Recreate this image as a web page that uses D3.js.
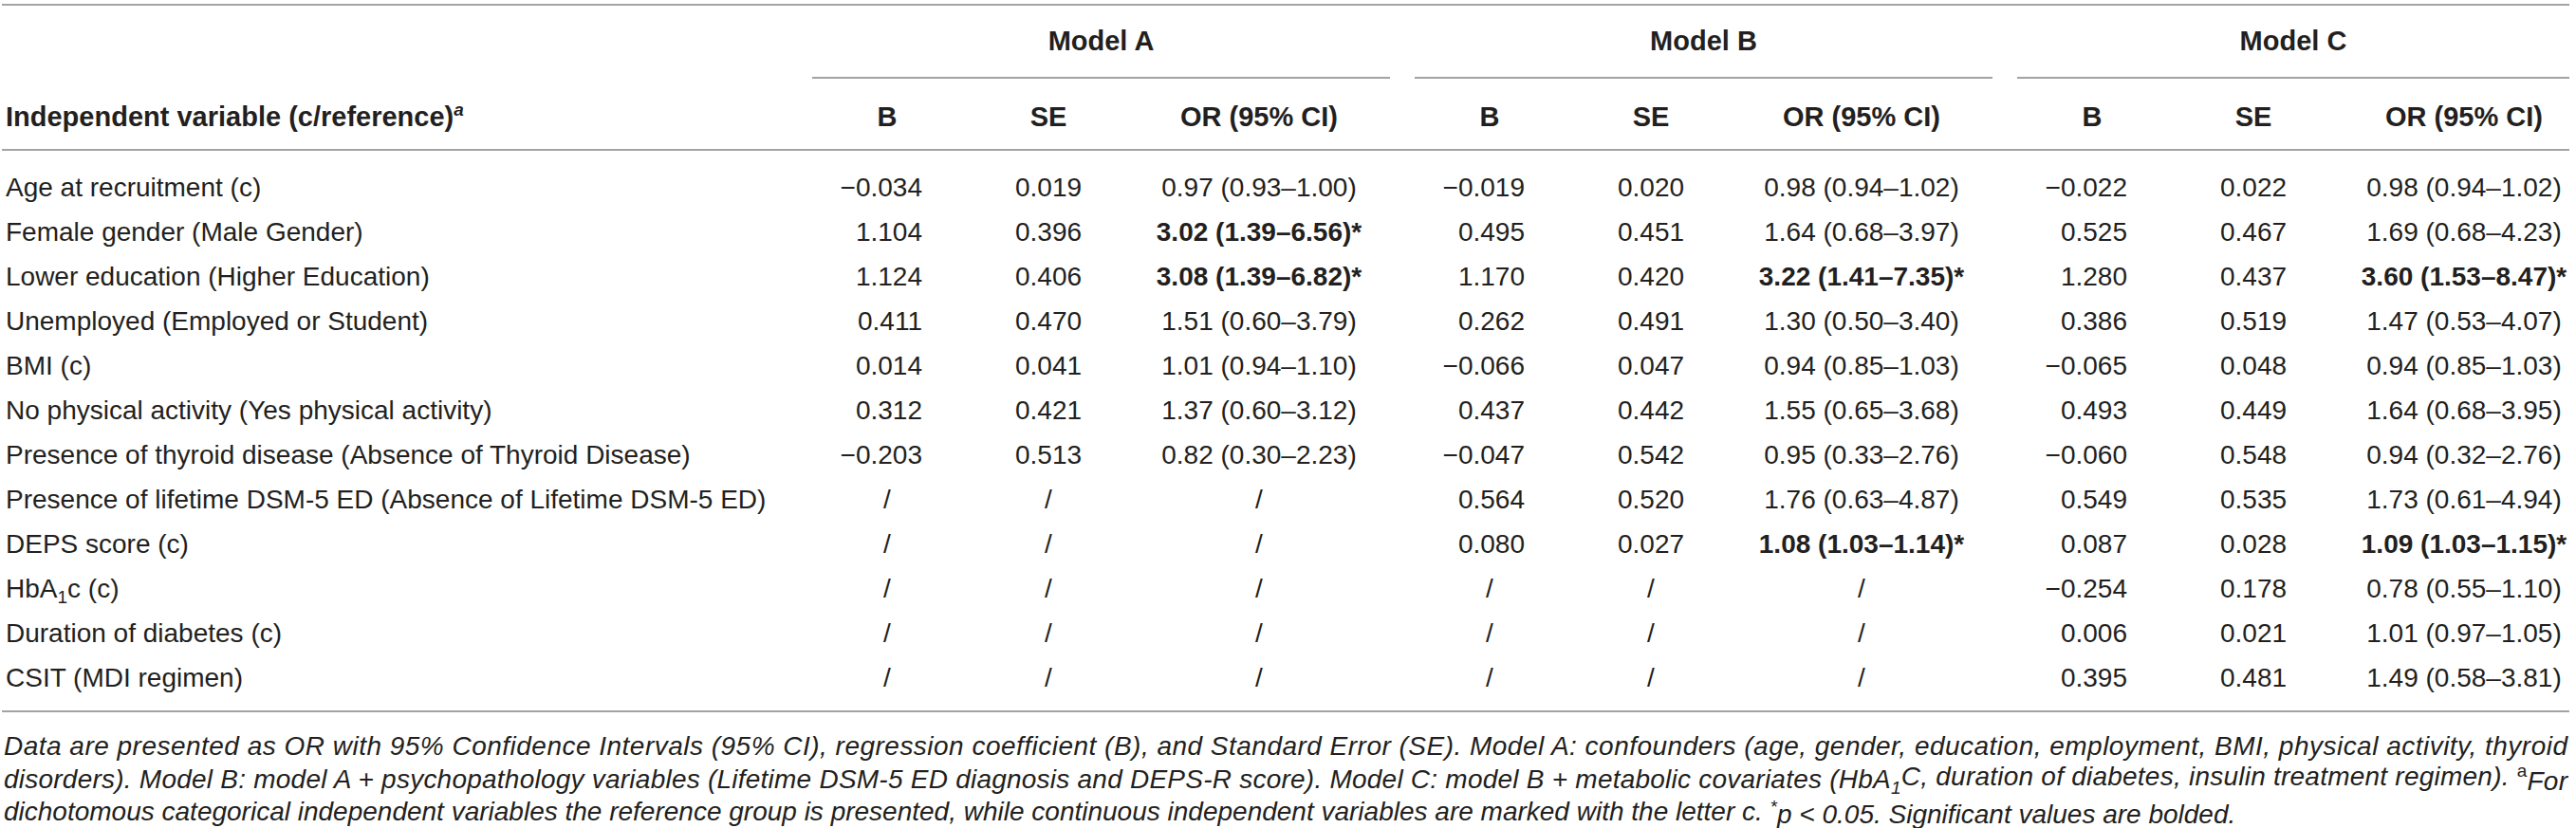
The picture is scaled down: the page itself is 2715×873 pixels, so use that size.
<!DOCTYPE html>
<html>
<head>
<meta charset="utf-8">
<script src="https://cdn.jsdelivr.net/npm/d3@7"></script>
<style>
  html, body { margin: 0; padding: 0; background: #fff; }
  svg { display: block; }
  text { font-family: "Liberation Sans", Arial, Helvetica, sans-serif; fill: #231f20; }
</style>
</head>
<body>
<svg id="chart"></svg>
<script>
// ---------------- data ----------------
const rowLabels = [
  "Age at recruitment (c)",
  "Female gender (Male Gender)",
  "Lower education (Higher Education)",
  "Unemployed (Employed or Student)",
  "BMI (c)",
  "No physical activity (Yes physical activity)",
  "Presence of thyroid disease (Absence of Thyroid Disease)",
  "Presence of lifetime DSM-5 ED (Absence of Lifetime DSM-5 ED)",
  "DEPS score (c)",
  "HbA1c (c)",
  "Duration of diabetes (c)",
  "CSIT (MDI regimen)"
];
const models = ["Model A", "Model B", "Model C"];
const columnHeads = ["B", "SE", "OR (95% CI)"];

const modelA_B  = ["\u22120.034","1.104","1.124","0.411","0.014","0.312","\u22120.203","/","/","/","/","/"];
const modelA_SE = ["0.019","0.396","0.406","0.470","0.041","0.421","0.513","/","/","/","/","/"];
const modelA_OR = ["0.97 (0.93\u20131.00)","3.02 (1.39\u20136.56)*","3.08 (1.39\u20136.82)*","1.51 (0.60\u20133.79)","1.01 (0.94\u20131.10)","1.37 (0.60\u20133.12)","0.82 (0.30\u20132.23)","/","/","/","/","/"];

const modelB_B  = ["\u22120.019","0.495","1.170","0.262","\u22120.066","0.437","\u22120.047","0.564","0.080","/","/","/"];
const modelB_SE = ["0.020","0.451","0.420","0.491","0.047","0.442","0.542","0.520","0.027","/","/","/"];
const modelB_OR = ["0.98 (0.94\u20131.02)","1.64 (0.68\u20133.97)","3.22 (1.41\u20137.35)*","1.30 (0.50\u20133.40)","0.94 (0.85\u20131.03)","1.55 (0.65\u20133.68)","0.95 (0.33\u20132.76)","1.76 (0.63\u20134.87)","1.08 (1.03\u20131.14)*","/","/","/"];

const modelC_B  = ["\u22120.022","0.525","1.280","0.386","\u22120.065","0.493","\u22120.060","0.549","0.087","\u22120.254","0.006","0.395"];
const modelC_SE = ["0.022","0.467","0.437","0.519","0.048","0.449","0.548","0.535","0.028","0.178","0.021","0.481"];
const modelC_OR = ["0.98 (0.94\u20131.02)","1.69 (0.68\u20134.23)","3.60 (1.53\u20138.47)*","1.47 (0.53\u20134.07)","0.94 (0.85\u20131.03)","1.64 (0.68\u20133.95)","0.94 (0.32\u20132.76)","1.73 (0.61\u20134.94)","1.09 (1.03\u20131.15)*","0.78 (0.55\u20131.10)","1.01 (0.97\u20131.05)","1.49 (0.58\u20133.81)"];

const headerLabel = "Independent variable (c/reference)";

// ---------------- layout ----------------
const W = 2715, H = 873;
const FONT = 28, HFONT = 29;
const LINE = "#a3a3a3";

const svg = d3.select("#chart").attr("width", W).attr("height", H);
svg.append("rect").attr("width", W).attr("height", H).attr("fill", "#fff");

const modelData = [
  {name: models[0], cols: [modelA_B, modelA_SE, modelA_OR]},
  {name: models[1], cols: [modelB_B, modelB_SE, modelB_OR]},
  {name: models[2], cols: [modelC_B, modelC_SE, modelC_OR]}
];

// model group position (B column centre)
const xModel = d3.scalePoint().domain(models).range([935, 2205]);
const colOffset = d3.scaleOrdinal().domain(columnHeads).range([0, 170, 392]);
const y = d3.scalePoint().domain(d3.range(rowLabels.length)).range([197, 714]);

const tableLeft = 2, tableRight = 2708;

// rules
const rules = [5, 158, 750];
svg.selectAll("line.rule").data(rules).join("line")
  .attr("class", "rule")
  .attr("x1", tableLeft).attr("x2", tableRight)
  .attr("y1", d => d).attr("y2", d => d)
  .attr("stroke", LINE).attr("stroke-width", 2);

// model spans
const spanStart = d => xModel(d) - 79;
const spanEnd = (d, i) => i === models.length - 1 ? tableRight : xModel(d) + 530;
svg.selectAll("line.span").data(models).join("line")
  .attr("class", "span")
  .attr("x1", d => spanStart(d))
  .attr("x2", (d, i) => spanEnd(d, i))
  .attr("y1", 82).attr("y2", 82)
  .attr("stroke", LINE).attr("stroke-width", 2);

svg.selectAll("text.model").data(models).join("text")
  .attr("class", "model")
  .attr("x", (d, i) => (spanStart(d) + spanEnd(d, i)) / 2)
  .attr("y", 43).attr("dy", "0.35em")
  .attr("text-anchor", "middle")
  .attr("font-size", HFONT).attr("font-weight", "bold")
  .text(d => d);

// column headers
models.forEach(m => {
  columnHeads.forEach(c => {
    svg.append("text")
      .attr("x", xModel(m) + colOffset(c))
      .attr("y", 123).attr("dy", "0.35em")
      .attr("text-anchor", "middle")
      .attr("font-size", HFONT).attr("font-weight", "bold")
      .text(c);
  });
});

const hl = svg.append("text").attr("x", 6).attr("y", 123).attr("dy", "0.35em")
  .attr("font-size", HFONT).attr("font-weight", "bold");
hl.append("tspan").text(headerLabel);
hl.append("tspan").attr("font-size", 19).attr("font-style", "italic").attr("dy", "-0.6em").text("a");

// row labels
svg.selectAll("text.rowlabel").data(rowLabels).join("text")
  .attr("class", "rowlabel")
  .attr("x", 6)
  .attr("y", (d, i) => y(i)).attr("dy", "0.35em")
  .attr("font-size", FONT)
  .each(function(d) {
    const t = d3.select(this);
    if (d.startsWith("HbA1c")) {
      t.append("tspan").text("HbA");
      t.append("tspan").attr("font-size", 19).attr("dy", "0.3em").text("1");
      t.append("tspan").attr("dy", "-0.2em").text("c (c)");
    } else {
      t.text(d);
    }
  });

// cells
modelData.forEach(md => {
  md.cols.forEach((vals, ci) => {
    const cx = xModel(md.name) + colOffset(columnHeads[ci]);
    svg.selectAll(null).data(vals).join("text")
      .attr("x", d => (ci === 0 && d !== "/") ? cx + 37 : cx)
      .attr("text-anchor", d => (ci === 0 && d !== "/") ? "end" : "middle")
      .attr("y", (d, i) => y(i)).attr("dy", "0.35em")
      .attr("font-size", FONT)
      .attr("font-weight", d => d.endsWith("*") ? "bold" : "normal")
      .text(d => d);
  });
});

// footnote
const FN = 28;
const fnY = [786, 821, 855];
svg.append("text").attr("x", 4).attr("y", fnY[0]).attr("dy", "0.35em")
  .attr("font-size", FN).attr("font-style", "italic")
  .attr("textLength", 2702).attr("lengthAdjust", "spacing")
  .text("Data are presented as OR with 95% Confidence Intervals (95% CI), regression coefficient (B), and Standard Error (SE). Model A: confounders (age, gender, education, employment, BMI, physical activity, thyroid");

const f2 = svg.append("text").attr("x", 4).attr("y", fnY[1]).attr("dy", "0.35em")
  .attr("font-size", FN).attr("font-style", "italic")
  .attr("textLength", 2702).attr("lengthAdjust", "spacing");
f2.append("tspan").text("disorders). Model B: model A + psychopathology variables (Lifetime DSM-5 ED diagnosis and DEPS-R score). Model C: model B + metabolic covariates (HbA");
f2.append("tspan").attr("font-size", 19).attr("dy", "0.3em").text("1");
f2.append("tspan").attr("dy", "-0.3em").text("C, duration of diabetes, insulin treatment regimen). ");
f2.append("tspan").attr("font-size", 19).attr("font-style", "normal").attr("dy", "-0.5em").text("a");
f2.append("tspan").attr("dy", "0.5em").text("For");

const f3 = svg.append("text").attr("x", 4).attr("y", fnY[2]).attr("dy", "0.35em")
  .attr("font-size", FN).attr("font-style", "italic");
f3.append("tspan").text("dichotomous categorical independent variables the reference group is presented, while continuous independent variables are marked with the letter c. ");
f3.append("tspan").attr("font-size", 19).attr("dy", "-0.4em").text("*");
f3.append("tspan").attr("dy", "0.4em").text("p < 0.05. Significant values are bolded.");
</script>
</body>
</html>
